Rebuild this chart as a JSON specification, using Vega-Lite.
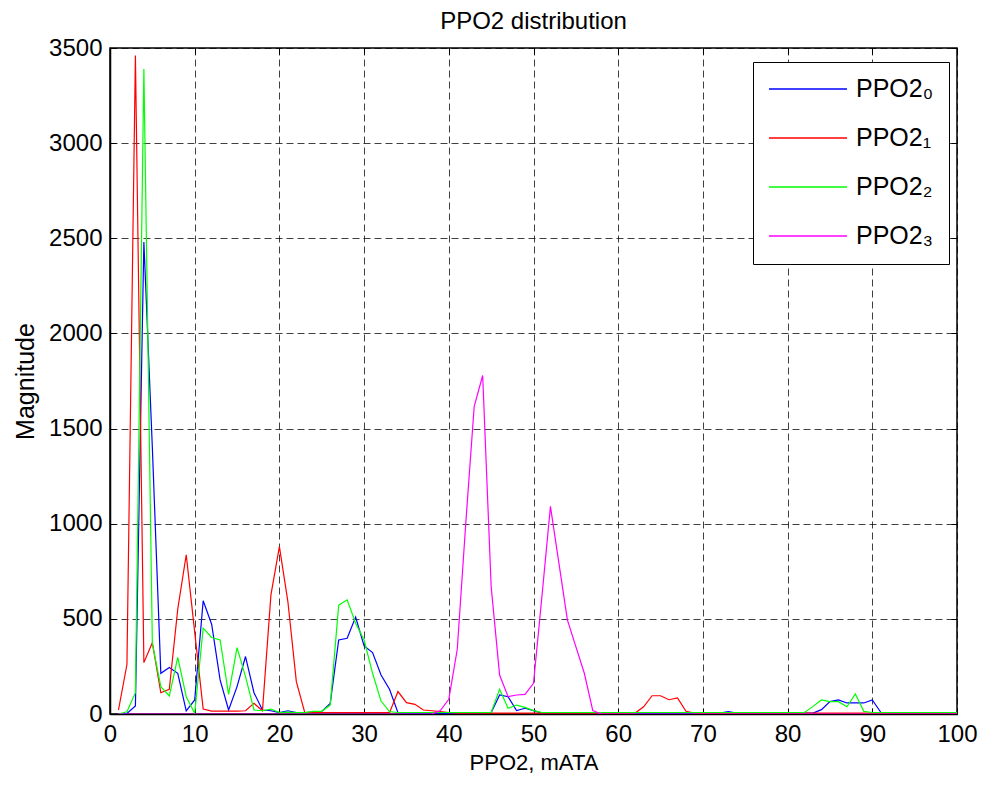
{
  "$schema": "https://vega.github.io/schema/vega-lite/v6.json",
  "autosize": {"type": "none"},
  "padding": {"left": 110, "top": 48, "right": 27, "bottom": 73},
  "width": 847,
  "height": 666,
  "background": "white",
  "title": {"text": "PPO2 distribution", "font": "Liberation Sans", "fontSize": 24, "fontWeight": "normal", "color": "black", "offset": 2},
  "config": {
    "view": {"stroke": "black", "strokeWidth": 1.5},
    "axis": {
      "labelFont": "Liberation Sans", "labelFontSize": 24, "labelColor": "black",
      "titleFont": "Liberation Sans", "titleFontWeight": "normal", "titleColor": "black",
      "domainColor": "black", "domainWidth": 1.5,
      "tickColor": "black", "tickSize": -6, "tickWidth": 1,
      "gridColor": "black", "gridOpacity": 0.75, "gridDash": [7, 4], "gridWidth": 1
    }
  },
  "data": {"values": [
    {"x":1,"b":0,"r":21,"g":0,"m":0},
    {"x":2,"b":3,"r":260,"g":12,"m":0},
    {"x":3,"b":42,"r":3460,"g":112,"m":0},
    {"x":4,"b":2480,"r":270,"g":3390,"m":0},
    {"x":5,"b":1400,"r":375,"g":370,"m":0},
    {"x":6,"b":214,"r":112,"g":144,"m":0},
    {"x":7,"b":244,"r":130,"g":95,"m":0},
    {"x":8,"b":214,"r":552,"g":298,"m":0},
    {"x":9,"b":17,"r":837,"g":91,"m":0},
    {"x":10,"b":74,"r":430,"g":4,"m":0},
    {"x":11,"b":595,"r":26,"g":451,"m":0},
    {"x":12,"b":472,"r":15,"g":402,"m":0},
    {"x":13,"b":179,"r":15,"g":389,"m":0},
    {"x":14,"b":21,"r":15,"g":103,"m":0},
    {"x":15,"b":144,"r":15,"g":349,"m":0},
    {"x":16,"b":302,"r":17,"g":196,"m":0},
    {"x":17,"b":112,"r":56,"g":21,"m":0},
    {"x":18,"b":21,"r":17,"g":17,"m":0},
    {"x":19,"b":17,"r":626,"g":26,"m":0},
    {"x":20,"b":7,"r":880,"g":7,"m":0},
    {"x":21,"b":17,"r":591,"g":10,"m":0},
    {"x":22,"b":7,"r":170,"g":7,"m":0},
    {"x":23,"b":7,"r":7,"g":7,"m":0},
    {"x":24,"b":10,"r":8,"g":14,"m":0},
    {"x":25,"b":14,"r":8,"g":14,"m":0},
    {"x":26,"b":56,"r":8,"g":47,"m":0},
    {"x":27,"b":389,"r":8,"g":572,"m":0},
    {"x":28,"b":398,"r":8,"g":600,"m":0},
    {"x":29,"b":509,"r":8,"g":477,"m":0},
    {"x":30,"b":358,"r":8,"g":389,"m":0},
    {"x":31,"b":323,"r":8,"g":214,"m":0},
    {"x":32,"b":205,"r":8,"g":68,"m":0},
    {"x":33,"b":130,"r":7,"g":12,"m":0},
    {"x":34,"b":7,"r":118,"g":8,"m":0},
    {"x":35,"b":5,"r":60,"g":8,"m":0},
    {"x":36,"b":5,"r":51,"g":8,"m":0},
    {"x":37,"b":5,"r":21,"g":8,"m":0},
    {"x":38,"b":5,"r":17,"g":8,"m":0},
    {"x":39,"b":5,"r":12,"g":8,"m":18},
    {"x":40,"b":3,"r":7,"g":8,"m":77},
    {"x":41,"b":3,"r":5,"g":8,"m":340},
    {"x":42,"b":3,"r":5,"g":8,"m":1000},
    {"x":43,"b":3,"r":5,"g":8,"m":1617},
    {"x":44,"b":3,"r":5,"g":8,"m":1779},
    {"x":45,"b":7,"r":5,"g":8,"m":670},
    {"x":46,"b":100,"r":5,"g":130,"m":205},
    {"x":47,"b":91,"r":5,"g":30,"m":91},
    {"x":48,"b":18,"r":5,"g":47,"m":100},
    {"x":49,"b":30,"r":5,"g":35,"m":103},
    {"x":50,"b":18,"r":5,"g":18,"m":161},
    {"x":51,"b":5,"r":5,"g":8,"m":620},
    {"x":52,"b":5,"r":5,"g":8,"m":1091},
    {"x":53,"b":5,"r":5,"g":8,"m":793},
    {"x":54,"b":5,"r":5,"g":8,"m":495},
    {"x":55,"b":5,"r":5,"g":8,"m":354},
    {"x":56,"b":5,"r":5,"g":8,"m":214},
    {"x":57,"b":5,"r":5,"g":8,"m":18},
    {"x":58,"b":5,"r":5,"g":8,"m":0},
    {"x":59,"b":5,"r":5,"g":8,"m":0},
    {"x":60,"b":5,"r":5,"g":8,"m":0},
    {"x":61,"b":5,"r":5,"g":8,"m":0},
    {"x":62,"b":5,"r":5,"g":8,"m":0},
    {"x":63,"b":5,"r":38,"g":8,"m":0},
    {"x":64,"b":5,"r":96,"g":8,"m":0},
    {"x":65,"b":5,"r":96,"g":8,"m":0},
    {"x":66,"b":5,"r":75,"g":8,"m":0},
    {"x":67,"b":5,"r":84,"g":8,"m":0},
    {"x":68,"b":5,"r":14,"g":8,"m":0},
    {"x":69,"b":5,"r":5,"g":8,"m":0},
    {"x":70,"b":5,"r":5,"g":8,"m":0},
    {"x":71,"b":5,"r":5,"g":8,"m":0},
    {"x":72,"b":5,"r":5,"g":8,"m":0},
    {"x":73,"b":12,"r":5,"g":8,"m":0},
    {"x":74,"b":5,"r":5,"g":8,"m":0},
    {"x":75,"b":5,"r":5,"g":8,"m":0},
    {"x":76,"b":5,"r":5,"g":8,"m":0},
    {"x":77,"b":5,"r":5,"g":8,"m":0},
    {"x":78,"b":5,"r":5,"g":8,"m":0},
    {"x":79,"b":5,"r":5,"g":8,"m":0},
    {"x":80,"b":5,"r":5,"g":8,"m":0},
    {"x":81,"b":5,"r":5,"g":8,"m":0},
    {"x":82,"b":5,"r":5,"g":8,"m":0},
    {"x":83,"b":5,"r":5,"g":40,"m":0},
    {"x":84,"b":23,"r":5,"g":74,"m":0},
    {"x":85,"b":65,"r":5,"g":65,"m":0},
    {"x":86,"b":74,"r":5,"g":65,"m":0},
    {"x":87,"b":58,"r":5,"g":38,"m":0},
    {"x":88,"b":58,"r":5,"g":105,"m":0},
    {"x":89,"b":58,"r":5,"g":14,"m":0},
    {"x":90,"b":74,"r":5,"g":8,"m":0},
    {"x":91,"b":9,"r":5,"g":8,"m":0},
    {"x":92,"b":5,"r":5,"g":8,"m":0},
    {"x":93,"b":5,"r":5,"g":8,"m":0},
    {"x":94,"b":5,"r":5,"g":8,"m":0},
    {"x":95,"b":5,"r":5,"g":8,"m":0},
    {"x":96,"b":5,"r":5,"g":8,"m":0},
    {"x":97,"b":5,"r":5,"g":8,"m":0},
    {"x":98,"b":5,"r":5,"g":8,"m":0},
    {"x":99,"b":5,"r":5,"g":8,"m":0},
    {"x":100,"b":5,"r":5,"g":8,"m":0}
  ]},
  "transform": [{"fold": ["b", "r", "g", "m"], "as": ["series", "value"]}],
  "layer": [
    {
      "mark": {"type": "line", "strokeWidth": 1.2, "clip": true},
      "encoding": {
        "x": {
          "field": "x", "type": "quantitative",
          "scale": {"domain": [0, 100], "nice": false, "zero": false},
          "axis": {"title": "PPO2, mATA", "titleFontSize": 22, "values": [0,10,20,30,40,50,60,70,80,90,100], "labelPadding": 14, "titlePadding": 6, "labelFlush": false}
        },
        "y": {
          "field": "value", "type": "quantitative",
          "scale": {"domain": [0, 3500], "nice": false},
          "axis": {"title": "Magnitude", "titleFontSize": 25, "format": "d", "values": [0,500,1000,1500,2000,2500,3000,3500], "labelPadding": 14, "titlePadding": 10, "labelFlush": false}
        },
        "color": {
          "field": "series", "type": "nominal",
          "scale": {"domain": ["b", "r", "g", "m"], "range": ["#0000ff", "#ff0000", "#00ff00", "#ff00ff"]},
          "legend": {
            "title": null,
            "orient": "none", "legendX": 643, "legendY": 14,
            "labelExpr": "datum.label == 'b' ? 'PPO2₀' : datum.label == 'r' ? 'PPO2₁' : datum.label == 'g' ? 'PPO2₂' : 'PPO2₃'",
            "symbolType": "stroke", "symbolSize": 6084, "symbolStrokeWidth": 1.3,
            "clipHeight": 24,
            "labelFont": "Liberation Sans", "labelFontSize": 25, "labelColor": "black", "labelOffset": 8,
            "rowPadding": 24, "padding": 15,
            "strokeColor": "black", "fillColor": "white", "cornerRadius": 0
          }
        }
      }
    },
    {
      "mark": {"type": "point", "opacity": 0},
      "encoding": {
        "x": {
          "field": "x", "type": "quantitative",
          "axis": {"orient": "top", "title": null, "labels": false, "grid": false, "domain": false, "values": [0,10,20,30,40,50,60,70,80,90,100]}
        },
        "y": {
          "field": "value", "type": "quantitative",
          "axis": {"orient": "right", "title": null, "labels": false, "grid": false, "domain": false, "values": [0,500,1000,1500,2000,2500,3000,3500]}
        }
      }
    }
  ],
  "resolve": {"axis": {"x": "independent", "y": "independent"}}
}
